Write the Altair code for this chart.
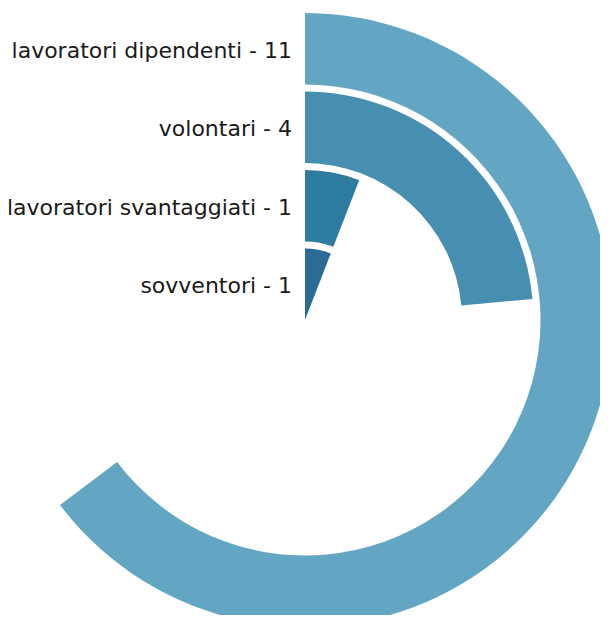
import altair as alt
import pandas as pd

categories = ["lavoratori dipendenti", "volontari", "lavoratori svantaggiati", "sovventori"]
values = [11, 4, 1, 1]
colors = ["#63a6c4", "#478fb0", "#2e7ba0", "#2b6b95"]

total = sum(values)
n = len(categories)
df = pd.DataFrame({
    "categoria": categories,
    "valore": values,
    "start": [0] * n,
    "ring_in": [n - 1 - i for i in range(n)],
    "ring_out": [n - 1 - i + 0.91 for i in range(n)],
    "ring_mid": [n - 1 - i + 0.455 for i in range(n)],
    "color": colors,
})
df["label"] = df["categoria"] + " - " + df["valore"].astype(str)

cx, cy = 297, 312
rscale = alt.Scale(type="linear", domain=[0, n], range=[0, 314], zero=True)
tscale = alt.Scale(type="linear", domain=[0, total], range=[0, 6.283185307179586])

arcs = alt.Chart(df).mark_arc(stroke=None).encode(
    x=alt.value(cx),
    y=alt.value(cy),
    theta=alt.Theta("start:Q", scale=tscale),
    theta2=alt.Theta2("valore:Q"),
    radius=alt.Radius("ring_in:Q", scale=rscale),
    radius2=alt.Radius2("ring_out:Q"),
    color=alt.Color("color:N", scale=None),
)

labels = alt.Chart(df).mark_text(
    align="right", baseline="middle", dx=-13, dy=2, font="DejaVu Sans", fontSize=22, color="#1a1a1a"
).encode(
    x=alt.value(cx),
    y=alt.value(cy),
    theta=alt.value(0),
    radius=alt.Radius("ring_mid:Q", scale=rscale),
    text="label:N",
)

chart = alt.layer(arcs, labels).properties(
    width=592, height=607, padding=0, autosize=alt.AutoSizeParams(type="none")
).configure_view(stroke=None)

chart.save("out.html", embed_options={"renderer": "svg", "actions": False})
